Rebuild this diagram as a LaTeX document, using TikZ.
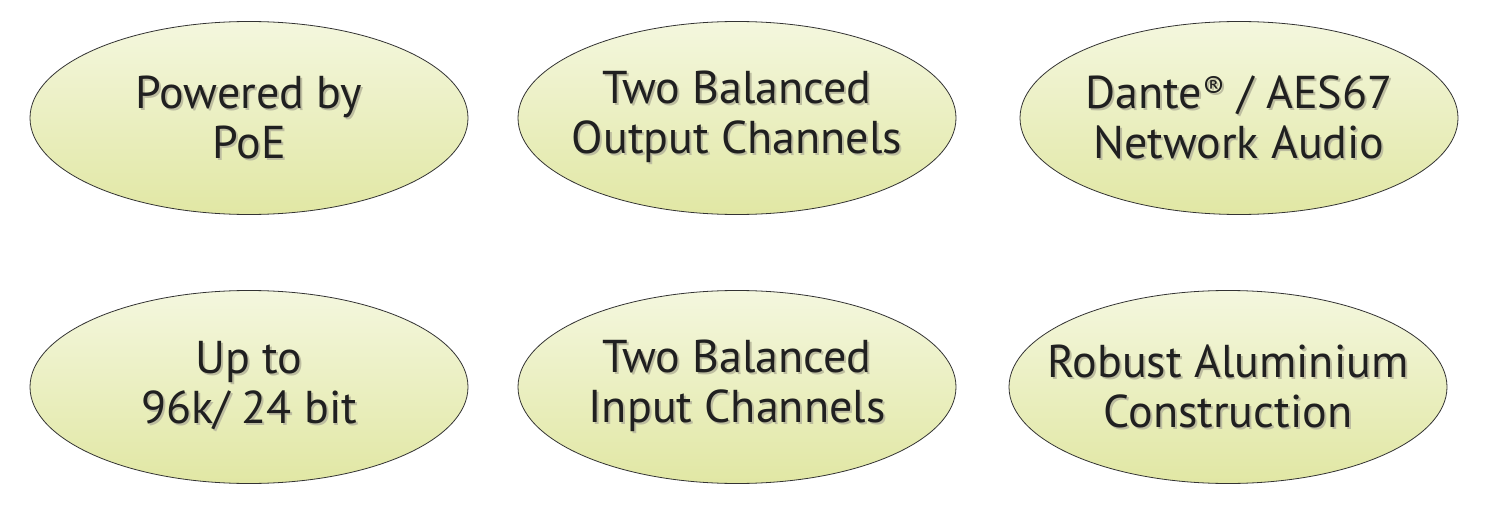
\documentclass[tikz,border=0pt]{standalone}
\usepackage{fontspec}
\setmainfont{PT Sans}
\usetikzlibrary{shapes.geometric}
\definecolor{ovaltop}{HTML}{F4F7DE}
\definecolor{ovalbot}{HTML}{E1E7A4}
\definecolor{textdark}{HTML}{202020}
\definecolor{shadowgray}{HTML}{BDBDA0}
\newcommand\shtxt[1]{\leavevmode\rlap{\kern2pt\raisebox{-2pt}{\color{shadowgray}#1}}#1}
\tikzset{
  feature/.style={ellipse, draw=black!80, line width=0.8pt,
    top color=ovaltop, bottom color=ovalbot,
    minimum width=438pt, minimum height=193pt,
    inner xsep=-60pt, inner ysep=-30pt,
    align=center, text=textdark,
    font=\fontsize{46}{50}\selectfont}
}
\begin{document}
\begin{tikzpicture}[x=1pt,y=1pt]
  \useasboundingbox (0,0) rectangle (1486,-508);
  \node[feature] (poe)    at (249,-118)  {\shtxt{Powered by}\\\shtxt{PoE}};
  \node[feature] (output) at (737,-118)  {\shtxt{Two Balanced}\\\shtxt{Output Channels}};
  \node[feature] (dante)  at (1239,-118) {\shtxt{Dante\textsuperscript{®} / AES67}\\\shtxt{Network Audio}};
  \node[feature] (rate)   at (249,-387)  {\shtxt{Up to}\\\shtxt{96k/ 24 bit}};
  \node[feature] (input)  at (737,-387)  {\shtxt{Two Balanced}\\\shtxt{Input Channels}};
  \node[feature] (case)   at (1228,-387) {\shtxt{Robust Aluminium}\\\shtxt{Construction}};
\end{tikzpicture}
\end{document}
